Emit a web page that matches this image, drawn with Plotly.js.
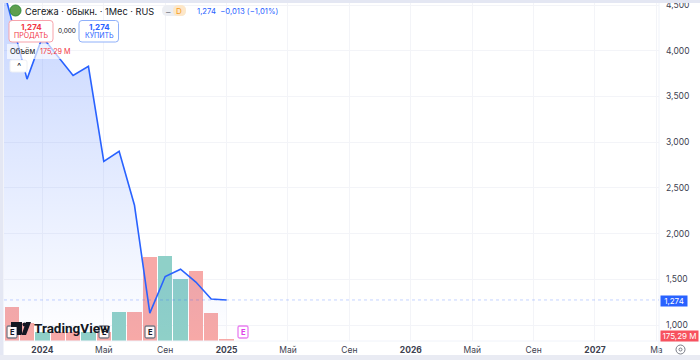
<!DOCTYPE html>
<html><head><meta charset="utf-8">
<script src="https://cdn.plot.ly/plotly-3.0.1.min.js"></script>
<style>html,body{margin:0;padding:0;background:#fff}#c{width:700px;height:360px}</style>
</head><body><div id="c"></div>
<script>
const months=['2023-10','2023-11','2023-12','2024-01','2024-02','2024-03','2024-04','2024-05','2024-06','2024-07','2024-08','2024-09','2024-10','2024-11','2024-12','2025-01','2025-02','2025-03','2025-04','2025-05','2025-06','2025-07','2025-08','2025-09','2025-10','2025-11','2025-12','2026-01','2026-02','2026-03','2026-04','2026-05','2026-06','2026-07','2026-08','2026-09','2026-10','2026-11','2026-12','2027-01','2027-02','2027-03','2027-04','2027-05'];
const priceMonths=months.slice(0,16);
const price=[4.98,4.32,3.69,4.15,3.94,3.73,3.83,2.79,2.90,2.31,1.13,1.53,1.61,1.47,1.285,1.274];
const volMonths=months.slice(1,16);
const volume=[3.0e9,1.6e9,0.75e9,0.75e9,0.75e9,0.75e9,0.8e9,2.55e9,2.5e9,7.4e9,7.45e9,5.4e9,6.1e9,2.45e9,0.17529e9];
const volDir=['d','d','u','d','d','u','d','u','d','d','u','u','d','d','d'];
const tickMonths=['2024-01','2024-05','2024-09','2025-01','2025-05','2025-09','2026-01','2026-05','2026-09','2027-01','2027-05'];
const tickLabels=['<b>2024</b>','Май','Сен','<b>2025</b>','Май','Сен','<b>2026</b>','Май','Сен','<b>2027</b>','Ма'];
const priceTicks=[1,1.5,2,2.5,3,3.5,4,4.5];
const lastPrice=1.274;
const font='Inter, Roboto, sans-serif';
const W=700,H=360,L=4,R=659,T=3,B=341;
const px=x=>(x-L)/(R-L), py=y=>1-(y-T)/(B-T);
const rect=(x0,y0,x1,y1,fill,line,lw)=>({type:'rect',xref:'paper',yref:'paper',x0:px(x0),x1:px(x1),y0:py(y0),y1:py(y1),fillcolor:fill,line:{color:line||'rgba(0,0,0,0)',width:lw||0},layer:'above'});
const rrect=(x0,y0,x1,y1,r,fill,line,lw)=>({type:'path',xref:'paper',yref:'paper',layer:'above',fillcolor:fill,line:{color:line||'rgba(0,0,0,0)',width:lw||0},
 path:`M${px(x0+r)} ${py(y0)}L${px(x1-r)} ${py(y0)}Q${px(x1)} ${py(y0)} ${px(x1)} ${py(y0+r)}L${px(x1)} ${py(y1-r)}Q${px(x1)} ${py(y1)} ${px(x1-r)} ${py(y1)}L${px(x0+r)} ${py(y1)}Q${px(x0)} ${py(y1)} ${px(x0)} ${py(y1-r)}L${px(x0)} ${py(y0+r)}Q${px(x0)} ${py(y0)} ${px(x0+r)} ${py(y0)}Z`});
const txt=(x,y,text,size,color,anchor,extra)=>Object.assign({xref:'paper',yref:'paper',x:px(x),y:py(y),text,showarrow:false,xanchor:anchor||'left',yanchor:'middle',font:{family:font,size,color},borderpad:0},extra||{});
const earn=(x,c)=>rrect(x-5,326,x+5,338,1.5,'rgba(255,255,255,.9)',c,1.3);
const shapes=[
 rect(-10,-10,W+10,3,'#e4e7f3'),
 rect(-10,355,W+10,H+10,'#e9ebf3'),
 rect(0,0,3.5,355,'#e4e7f3'),
 {type:'line',xref:'paper',yref:'paper',x0:px(659),x1:px(659),y0:py(3),y1:py(355),line:{color:'#f0f3fa',width:1},layer:'above'},
 {type:'line',xref:'paper',yref:'paper',x0:px(4),x1:px(700),y0:py(341),y1:py(341),line:{color:'#f0f3fa',width:1},layer:'above'},
 {type:'line',xref:'paper',yref:'y2',x0:0,x1:1,y0:lastPrice,y1:lastPrice,line:{color:'rgba(41,98,255,.28)',width:1,dash:'dot'},layer:'above'},
 rect(7,44,70,59,'rgba(255,255,255,.65)'),
 rrect(9,20.5,53,42,3,'#ffffff','#f7a3ab',1),
 rrect(79,20.5,118.5,42,3,'#ffffff','#8fb0fa',1),
 rrect(10,60,27,72,2,'#ffffff','#eef0f5',1),
 {type:'circle',xref:'paper',yref:'paper',x0:px(10),x1:px(21),y0:py(5),y1:py(16),fillcolor:'#5e9f4f',line:{color:'#2f8a3a',width:1},layer:'above'},
 rrect(162,5,186,16,5.5,'#eceef3'),
 rrect(173,5,186,16,5.5,'#fde7c8'),
 earn(12,'#787b86'),earn(104,'#787b86'),earn(150,'#787b86'),
 earn(243,'#e97ff0'),
 {type:'path',xref:'paper',yref:'paper',layer:'above',fillcolor:'#131722',line:{width:0},path:`M${px(11)} ${py(322)}H${px(22)}V${py(335)}H${px(17)}V${py(327)}H${px(11)}Z M${px(26)} ${py(322)}H${px(31)}L${px(26)} ${py(335)}H${px(21.5)}Z`},
 {type:'circle',xref:'paper',yref:'paper',layer:'above',fillcolor:'#131722',line:{width:0},x0:px(22.5),x1:px(26.5),y0:py(322.5),y1:py(326.5)},
 {type:'circle',xref:'paper',yref:'paper',layer:'above',fillcolor:'rgba(0,0,0,0)',line:{color:'#787b86',width:1},x0:px(676),x1:px(685),y0:py(345),y1:py(354)},
 {type:'circle',xref:'paper',yref:'paper',layer:'above',fillcolor:'rgba(0,0,0,0)',line:{color:'#787b86',width:1},x0:px(679),x1:px(682),y0:py(348),y1:py(351)}
];
const annotations=[
 txt(24,11.5,'Сегежа · обыкн. · 1Мес · RUS',9.2,'#131722'),
 txt(168,11.5,'–',9,'#787b86','center'),
 txt(179,11.5,'D',8,'#f59b23','center'),
 txt(196,11.5,'1,274  −0,013 (−1,01%)',7.7,'#2962ff'),
 txt(31,27,'<b>1,274</b>',8,'#f23645','center'),
 txt(31,36,'ПРОДАТЬ',7,'#f23645','center'),
 txt(66.5,31,'0,000',6.5,'#131722','center'),
 txt(99,27,'<b>1,274</b>',8,'#2962ff','center'),
 txt(99,36,'КУПИТЬ',7,'#2962ff','center'),
 txt(9,52,'Объём',7.5,'#131722'),
 txt(39,52,'175,29 M',7.2,'#f23645'),
 txt(18.5,66,'^',9,'#131722','center'),
 txt(12,332.5,'<b>E</b>',7.5,'#131722','center'),
 txt(104,332.5,'<b>E</b>',7.5,'#131722','center'),
 txt(150,332.5,'<b>E</b>',7.5,'#131722','center'),
 txt(243,332.5,'<b>E</b>',7.5,'#e040e8','center'),
 txt(33,328,'<b>TradingView</b>',13,'#131722','left',{font:{family:'Roboto, sans-serif',size:13.5,color:'#131722'}}),
 txt(660,300.5,'1,274',8,'#ffffff','left',{bgcolor:'#2962ff',width:26,height:10,align:'center'}),
 txt(660,336,'175,29 M',8,'#ffffff','left',{bgcolor:'#f7525f',width:37,height:10,align:'center'})
];
const data=[
 {type:'bar',x:volMonths,y:volume,yaxis:'y',width:0.93,marker:{color:volDir.map(d=>d==='u'?'#8fd0c8':'#f7a9a7'),line:{width:0}},hoverinfo:'skip'},
 {type:'scatter',mode:'lines',x:priceMonths,y:price,yaxis:'y2',line:{color:'#2962ff',width:1.6},fill:'tozeroy',
  fillgradient:{type:'vertical',start:4.5,stop:0.825,colorscale:[[0,'rgba(41,98,255,0.26)'],[1,'rgba(41,98,255,0)']]},hoverinfo:'skip'}
];
const layout={
 width:W,height:H,margin:{l:L,r:W-R,t:T,b:H-B,pad:0},showlegend:false,paper_bgcolor:'#ffffff',plot_bgcolor:'#ffffff',
 separators:', ',bargap:0,
 xaxis:{type:'category',categoryorder:'array',categoryarray:months,range:[0.5,43.17],tickmode:'array',tickvals:tickMonths,ticktext:tickLabels,
  showgrid:true,gridcolor:'#f3f4f8',gridwidth:1,zeroline:false,showline:false,ticks:'',tickangle:0,tickfont:{family:font,size:8.5,color:'#3d4150'},ticklabelstandoff:2},
 yaxis:{range:[0,338*87.6e6],visible:false,showgrid:false,zeroline:false,fixedrange:true},
 yaxis2:{overlaying:'y',side:'right',range:[0.825,4.523],tickmode:'array',tickvals:priceTicks,tickformat:'.3f',
  showgrid:true,gridcolor:'#f3f4f8',gridwidth:1,zeroline:false,showline:false,ticks:'',tickfont:{family:font,size:8.5,color:'#3d4150'},ticklabelstandoff:6},
 shapes,annotations
};
Plotly.newPlot('c',data,layout,{displayModeBar:false,staticPlot:true});
</script></body></html>
